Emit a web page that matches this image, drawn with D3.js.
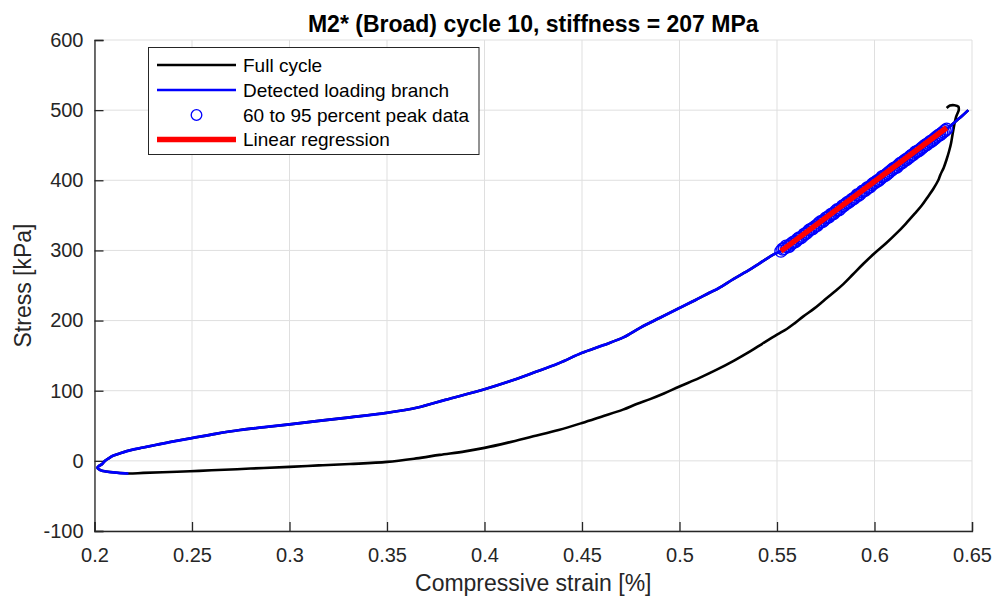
<!DOCTYPE html>
<html>
<head>
<meta charset="utf-8">
<script src="https://cdn.jsdelivr.net/npm/d3@7"></script>
<style>
  html, body { margin: 0; padding: 0; background: #fff; }
  svg { display: block; font-family: "Liberation Sans", Arial, Helvetica, sans-serif; }
</style>
</head>
<body>
<svg id="chart" width="995" height="599"></svg>
<script>
// Cycle 10 of sample M2* (Broad): strain [%] vs stress [kPa]
const titleText = "M2* (Broad) cycle 10, stiffness = 207 MPa";
const xTicks = [0.2, 0.25, 0.3, 0.35, 0.4, 0.45, 0.5, 0.55, 0.6, 0.65];
const yTicks = [-100, 0, 100, 200, 300, 400, 500, 600];

// Unloading part of the full cycle (from the peak back down to minimum strain)
const unloadingBranch = [
  [0.6370,503],[0.6387,506.5],[0.6410,507],[0.6430,505],[0.6432,500],[0.6425,495],
  [0.6418,490],[0.6412,483],[0.6407,476],[0.6400,465],[0.6392,452],[0.6382,441],
  [0.6370,430],[0.6355,418],[0.6338,408],[0.6327,400],[0.6302,388],[0.6275,377],
  [0.6242,364],[0.6205,352],[0.6160,338],[0.6115,325],[0.6062,311],[0.6000,296],
  [0.5943,281],[0.5890,266],[0.5840,252],[0.5790,240],[0.5738,228],[0.5690,217],
  [0.5635,206],[0.5590,196],[0.5550,188],[0.5500,180],[0.5430,168],[0.5362,156],
  [0.5280,143],[0.5191,130],[0.5100,118],[0.5000,106],[0.4920,96],[0.4849,88],
  [0.4780,81],[0.4710,73],[0.4600,63],[0.4500,54],[0.4380,44],[0.4250,35],
  [0.4120,26],[0.4000,18.5],[0.3900,13.5],[0.3770,8.5],[0.3650,3.5],[0.3500,-1.5],
  [0.3310,-4.5],[0.3150,-6.5],[0.3000,-8.6],[0.2800,-11],[0.2600,-13.5],[0.2490,-14.8],
  [0.2350,-16.2],[0.2250,-17.2],[0.2174,-18]
];

// Detected loading branch (minimum strain up to the peak)
const loadingBranch = [
  [0.2174,-18],[0.2120,-17],[0.2080,-16],[0.2045,-14.5],[0.2028,-13],[0.2015,-10],
  [0.2022,-7.5],[0.2037,-5],[0.2054,0],[0.2075,4],[0.2097,7.5],[0.2140,11.5],
  [0.2182,15],[0.2250,19],[0.2319,23],[0.2400,27.5],[0.2500,32.5],[0.2620,38.5],
  [0.2746,44],[0.2870,48],[0.3000,52],[0.3150,57],[0.3310,62],[0.3500,68.5],
  [0.3657,76],[0.3800,87],[0.4000,102],[0.4125,113],[0.4250,125.5],[0.4380,139],
  [0.4500,154],[0.4610,165],[0.4712,176],[0.4800,190],[0.4900,204],[0.5000,218],
  [0.5080,229],[0.5156,240],[0.5200,246],[0.5276,259],[0.5362,273],[0.5430,285],
  [0.5481,294],[0.5520,299],[0.5600,315],[0.5700,335],[0.5800,355],[0.5900,376],
  [0.6000,397],[0.6100,417],[0.6200,437],[0.6300,458],[0.6370,473],[0.6420,485],
  [0.6450,492],[0.6481,500]
];

// Points between 60 and 95 percent of the peak stress
const peakWindowStrain = [
  0.5520,0.5529,0.5537,0.5546,0.5554,0.5563,0.5571,0.5580,0.5588,0.5597,
  0.5605,0.5614,0.5622,0.5631,0.5639,0.5648,0.5656,0.5665,0.5673,0.5682,
  0.5690,0.5699,0.5707,0.5716,0.5724,0.5733,0.5741,0.5750,0.5758,0.5767,
  0.5775,0.5784,0.5792,0.5801,0.5809,0.5818,0.5826,0.5835,0.5843,0.5852,
  0.5860,0.5869,0.5877,0.5886,0.5894,0.5903,0.5911,0.5920,0.5928,0.5937,
  0.5945,0.5954,0.5962,0.5971,0.5979,0.5988,0.5996,0.6005,0.6013,0.6022,
  0.6030,0.6039,0.6047,0.6056,0.6064,0.6073,0.6081,0.6090,0.6098,0.6107,
  0.6115,0.6124,0.6132,0.6141,0.6149,0.6158,0.6166,0.6175,0.6183,0.6192,
  0.6200,0.6209,0.6217,0.6226,0.6234,0.6243,0.6251,0.6260,0.6268,0.6277,
  0.6285,0.6294,0.6302,0.6311,0.6319,0.6328,0.6336,0.6345,0.6353,0.6362,0.6370
];
const peakWindowStress = [
  299,302,303,306,305,306,309,311,312,313,
  316,318,318,320,323,324,326,329,330,331,
  333,335,336,339,341,341,343,346,347,348,
  351,352,353,356,358,358,360,363,364,366,
  368,369,371,373,374,376,379,379,381,384,
  385,386,389,390,391,394,396,397,399,400,
  402,405,406,407,409,411,413,415,417,418,
  419,422,424,425,427,429,430,432,434,436,
  437,440,441,442,444,446,448,450,451,453,
  455,456,458,460,462,464,465,467,469,471,473
];

// Linear regression over the peak window (slope 2070 kPa per % = 207 MPa)
const regressionStrain = [0.552, 0.637];
const regressionStress = [299, 475];

const legendLabels = ["Full cycle", "Detected loading branch", "60 to 95 percent peak data", "Linear regression"];

const fullCycle = unloadingBranch.concat(loadingBranch.slice(1));

const svg = d3.select("#chart");
const margin = { left: 94.5, right: 23, top: 40, bottom: 68 };
const W = 995, H = 599;
const x = d3.scaleLinear().domain([0.2, 0.65]).range([margin.left, W - margin.right]);
const y = d3.scaleLinear().domain([-100, 600]).range([H - margin.bottom, margin.top]);
const axisColor = "#262626";

// grid
const grid = svg.append("g");
grid.selectAll("line.gx").data(xTicks).join("line")
  .attr("x1", d => x(d)).attr("x2", d => x(d))
  .attr("y1", y(-100)).attr("y2", y(600))
  .attr("stroke", "#dfdfdf").attr("stroke-width", 1);
grid.selectAll("line.gy").data(yTicks).join("line")
  .attr("x1", x(0.2)).attr("x2", x(0.65))
  .attr("y1", d => y(d)).attr("y2", d => y(d))
  .attr("stroke", "#dfdfdf").attr("stroke-width", 1);

// axes with inward ticks
const xAxis = svg.append("g").attr("transform", `translate(0,${y(-100)})`)
  .call(d3.axisBottom(x).tickValues(xTicks).tickSize(-9).tickPadding(17)
    .tickFormat(d => String(+d.toFixed(2))));
const yAxis = svg.append("g").attr("transform", `translate(${x(0.2)},0)`)
  .call(d3.axisLeft(y).tickValues(yTicks).tickSize(-9).tickPadding(11)
    .tickFormat(d => String(d)));
[xAxis, yAxis].forEach(a => {
  a.select(".domain").attr("stroke", axisColor).attr("stroke-width", 1.3);
  a.selectAll(".tick line").attr("stroke", axisColor).attr("stroke-width", 1.3);
  a.selectAll(".tick text").attr("fill", axisColor).style("font-size", "20px")
    .style("font-family", "'Liberation Sans', Arial, sans-serif");
});

const line = d3.line().x(d => x(d[0])).y(d => y(d[1])).curve(d3.curveCatmullRom.alpha(0.5));

svg.append("path").datum(fullCycle).attr("d", line)
  .attr("fill", "none").attr("stroke", "#000").attr("stroke-width", 2.6)
  .attr("stroke-linejoin", "round");
svg.append("path").datum(loadingBranch).attr("d", line)
  .attr("fill", "none").attr("stroke", "#0000ff").attr("stroke-width", 2.7)
  .attr("stroke-linejoin", "round");

svg.append("g").selectAll("circle").data(peakWindowStrain).join("circle")
  .attr("cx", d => x(d)).attr("cy", (d, i) => y(peakWindowStress[i]))
  .attr("r", 6).attr("fill", "none").attr("stroke", "#0000ff").attr("stroke-width", 1.3);

svg.append("line")
  .attr("x1", x(regressionStrain[0])).attr("y1", y(regressionStress[0]))
  .attr("x2", x(regressionStrain[1])).attr("y2", y(regressionStress[1]))
  .attr("stroke", "#ff0000").attr("stroke-width", 5.5);

// title and axis labels
svg.append("text").attr("x", (x(0.2) + x(0.65)) / 2).attr("y", 32)
  .attr("text-anchor", "middle").style("font-size", "23px").style("font-weight", "bold")
  .attr("fill", "#000").text(titleText);
svg.append("text").attr("x", (x(0.2) + x(0.65)) / 2).attr("y", 591)
  .attr("text-anchor", "middle").style("font-size", "23px").attr("fill", axisColor)
  .text("Compressive strain [%]");
svg.append("text").attr("transform", `translate(31,${(y(-100) + y(600)) / 2}) rotate(-90)`)
  .attr("text-anchor", "middle").style("font-size", "23px").attr("fill", axisColor)
  .text("Stress [kPa]");

// legend
const lg = svg.append("g");
lg.append("rect").attr("x", 148.5).attr("y", 47.5).attr("width", 330.5).attr("height", 107)
  .attr("fill", "#fff").attr("stroke", axisColor).attr("stroke-width", 1);
const rowY = [65, 90, 115, 139.5];
const ls = 157, le = 236;
lg.append("line").attr("x1", ls).attr("x2", le).attr("y1", rowY[0]).attr("y2", rowY[0])
  .attr("stroke", "#000").attr("stroke-width", 2.6);
lg.append("line").attr("x1", ls).attr("x2", le).attr("y1", rowY[1]).attr("y2", rowY[1])
  .attr("stroke", "#0000ff").attr("stroke-width", 2.6);
lg.append("circle").attr("cx", (ls + le) / 2).attr("cy", rowY[2]).attr("r", 5.3)
  .attr("fill", "none").attr("stroke", "#0000ff").attr("stroke-width", 1.3);
lg.append("line").attr("x1", ls).attr("x2", le).attr("y1", rowY[3]).attr("y2", rowY[3])
  .attr("stroke", "#ff0000").attr("stroke-width", 5.5);
lg.selectAll("text").data(legendLabels).join("text")
  .attr("x", 243).attr("y", (d, i) => rowY[i]).attr("dy", "0.35em")
  .style("font-size", "19px").attr("fill", "#000").text(d => d);
</script>
</body>
</html>
